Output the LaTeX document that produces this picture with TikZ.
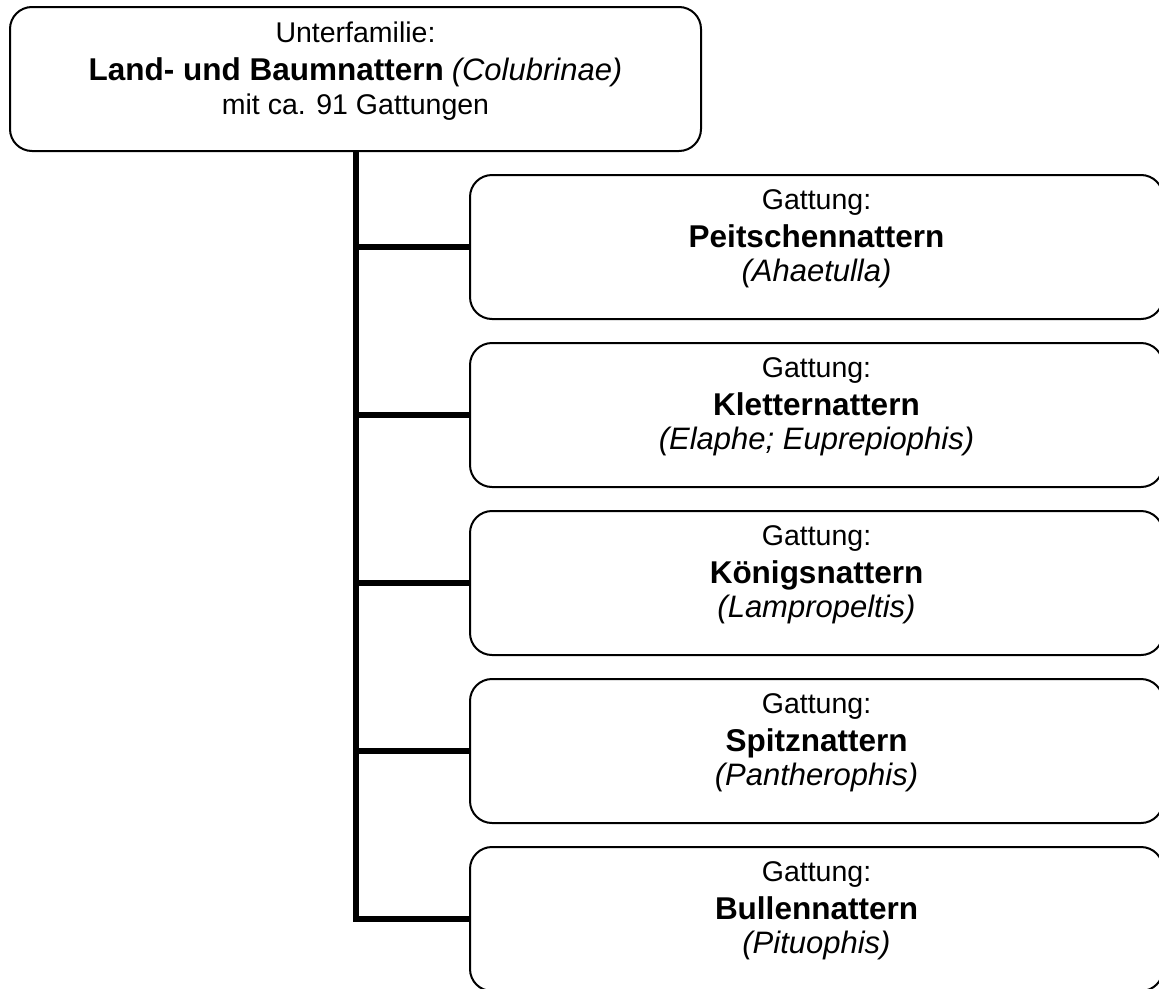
\documentclass[tikz,border=0pt]{standalone}
\usepackage{fontspec}
\setmainfont{Liberation Sans}
\newcommand{\bigb}[1]{{\fontsize{31.5pt}{34pt}\selectfont\bfseries #1}}
\newcommand{\bigi}[1]{{\fontsize{31pt}{34pt}\selectfont\itshape #1}}
\begin{document}
\begin{tikzpicture}[x=1pt,y=-1pt,
  box/.style={draw=black, line width=2pt, rounded corners=22pt, fill=white,
    minimum height=144pt, inner sep=0pt},
  topbox/.style={box, minimum width=691pt},
  childbox/.style={box, minimum width=693pt},
  txt/.style={align=center, inner sep=0pt, font=\fontsize{28.5pt}{34pt}\selectfont},
  conn/.style={line width=6.5pt, draw=black}]
\useasboundingbox (0,0) rectangle (1159,988);
\clip (0,0) rectangle (1159,988);
\fill[white] (0,0) rectangle (1159,988);

\node[topbox] (top) at (355.5,79) {};
\node[txt] (toptxt) at ([yshift=8pt]top.center)
  {Unterfamilie:\\[4pt]\bigb{Land- und Baumnattern} \bigi{(Colubrinae)}\\mit ca. 91 Gattungen};

\node[childbox] (b1) at (816.5,247) {};
\node[childbox] (b2) at (816.5,415) {};
\node[childbox] (b3) at (816.5,583) {};
\node[childbox] (b4) at (816.5,751) {};
\node[childbox] (b5) at (816.5,919) {};

\node[txt] (t1) at ([yshift=8pt]b1.center) {Gattung:\\[4pt]\bigb{Peitschennattern}\\\bigi{(Ahaetulla)}};
\node[txt] (t2) at ([yshift=8pt]b2.center) {Gattung:\\[4pt]\bigb{Kletternattern}\\\bigi{(Elaphe; Euprepiophis)}};
\node[txt] (t3) at ([yshift=8pt]b3.center) {Gattung:\\[4pt]\bigb{Königsnattern}\\\bigi{(Lampropeltis)}};
\node[txt] (t4) at ([yshift=8pt]b4.center) {Gattung:\\[4pt]\bigb{Spitznattern}\\\bigi{(Pantherophis)}};
\node[txt] (t5) at ([yshift=8pt]b5.center) {Gattung:\\[4pt]\bigb{Bullennattern}\\\bigi{(Pituophis)}};

\coordinate (trunkx) at (356,0);
\draw[conn] (top.south -| trunkx) |- (b5.west);
\foreach \b in {b1,b2,b3,b4}
  \draw[conn] (\b.west -| trunkx) -- (\b.west);
\end{tikzpicture}
\end{document}
